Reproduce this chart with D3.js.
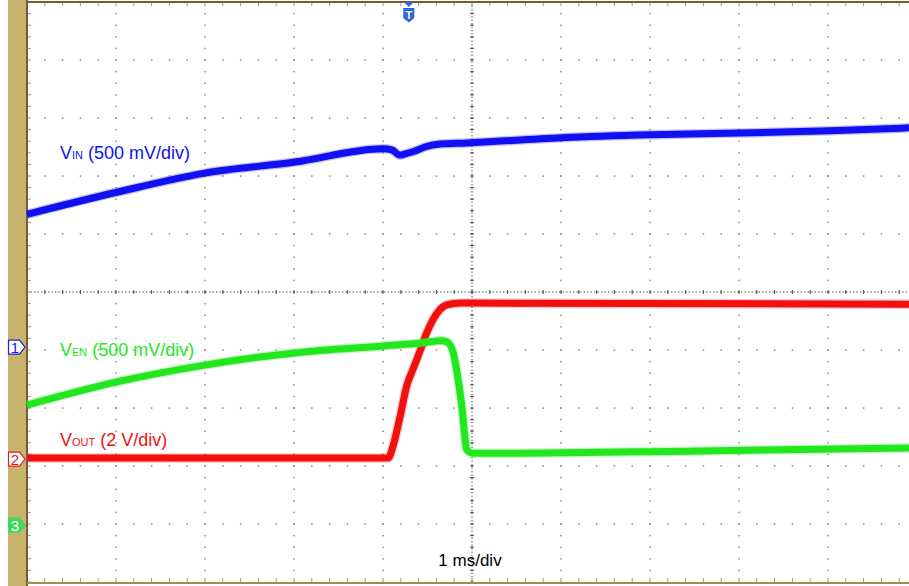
<!DOCTYPE html>
<html>
<head>
<meta charset="utf-8">
<script src="https://cdn.jsdelivr.net/npm/d3@7"></script>
<style>
  body { margin: 0; background: #fff; }
  text { font-family: "Liberation Sans", Arial, sans-serif; }
</style>
</head>
<body>
<div id="scope"></div>
<script>
// traces: time in ms, level in divisions from centre
const vinTime  = [0, 1.01, 2.0, 3.01, 4.0, 4.1, 4.19, 4.25, 4.36, 4.47, 4.64, 4.94, 6.01, 7.02, 8.01, 9.02, 9.91];
const vinLevel = [1.34, 1.72, 2.05, 2.24, 2.47, 2.45, 2.36, 2.38, 2.43, 2.5, 2.55, 2.57, 2.66, 2.71, 2.74, 2.78, 2.83];

const enTime  = [0, 1.01, 2.0, 3.01, 4.0, 4.42, 4.66, 4.72, 4.79, 4.84, 4.89, 4.92, 4.94, 5.01, 5.31, 7.56, 9.91];
const enLevel = [-1.95, -1.55, -1.26, -1.05, -0.93, -0.88, -0.84, -0.86, -1.05, -1.47, -2.03, -2.5, -2.72, -2.78, -2.78, -2.74, -2.69];

const outTime  = [0, 4.06, 4.11, 4.19, 4.27, 4.34, 4.42, 4.49, 4.61, 4.72, 4.87, 9.91];
const outLevel = [-2.86, -2.86, -2.67, -2.16, -1.6, -1.32, -1.0, -0.71, -0.36, -0.22, -0.19, -0.21];

// channel labels and ground markers
const labelText  = ["V", "V", "V"];
const labelSub   = ["IN", "EN", "OUT"];
const labelScale = [" (500 mV/div)", " (500 mV/div)", " (2 V/div)"];
const labelLevel = [2.3, -1.11, -2.65];
const markerIds    = ["1", "2", "3"];
const markerLevels = [-0.95, -2.88, -4.02];
const triggerTime = 4.29;
const timebase = "1 ms/div";

const W = 909, H = 586;
const blue = "#1010f0", green = "#22e61e", red = "#f01010";

const svg = d3.select("#scope").append("svg")
    .attr("width", W)
    .attr("height", H);

svg.append("rect").attr("width", W).attr("height", H).attr("fill", "#fff");

// 10 x 10 divisions, screen cropped at the right
const x = d3.scaleLinear().domain([0, 10]).range([27, 917]);
const y = d3.scaleLinear().domain([-5, 5]).range([582, 2]);

// left bezel
svg.append("rect").attr("x", 8).attr("y", 0).attr("width", 18).attr("height", H).attr("fill", "#c6b46c");

// graticule dots
const grid = svg.append("g").attr("fill", "#8a8a8a");
const minorX = d3.range(0, 50.01, 1).map(i => i / 5);
const minorY = d3.range(-25, 25.01, 1).map(i => i / 5);
d3.range(-4, 5).forEach(lv => {
    grid.selectAll(null).data(minorX).enter().append("rect")
        .attr("x", d => x(d) - 0.7).attr("y", y(lv) - 0.7)
        .attr("width", 1.5).attr("height", 1.5);
});
d3.range(1, 10).forEach(t => {
    grid.selectAll(null).data(minorY).enter().append("rect")
        .attr("x", x(t) - 0.7).attr("y", d => y(d) - 0.7)
        .attr("width", 1.5).attr("height", 1.5);
});

// centre crosshair with tick marks
const cross = svg.append("g").attr("stroke", "#555").attr("stroke-width", 1);
cross.append("line")
    .attr("x1", x(0)).attr("x2", W).attr("y1", y(0)).attr("y2", y(0))
    .attr("stroke-dasharray", "1.5,2");
cross.append("line")
    .attr("x1", x(5)).attr("x2", x(5)).attr("y1", y(5)).attr("y2", y(-5))
    .attr("stroke-dasharray", "1.5,2");
cross.selectAll(".tx").data(minorX).enter().append("line")
    .attr("x1", d => x(d)).attr("x2", d => x(d))
    .attr("y1", y(0) - 2).attr("y2", y(0) + 2);
cross.selectAll(".ty").data(minorY).enter().append("line")
    .attr("x1", x(5) - 2).attr("x2", x(5) + 2)
    .attr("y1", d => y(d)).attr("y2", d => y(d));
// edge ticks
cross.selectAll(".ly").data(minorY).enter().append("line")
    .attr("x1", x(0)).attr("x2", x(0) + 4)
    .attr("y1", d => y(d)).attr("y2", d => y(d))
    .attr("stroke", "#999");
cross.selectAll(".tt").data(minorX).enter().append("line")
    .attr("x1", d => x(d)).attr("x2", d => x(d))
    .attr("y1", y(5)).attr("y2", y(5) + 4)
    .attr("stroke", "#999");
cross.selectAll(".bt").data(minorX).enter().append("line")
    .attr("x1", d => x(d)).attr("x2", d => x(d))
    .attr("y1", y(-5)).attr("y2", y(-5) - 4)
    .attr("stroke", "#999");

// frame
svg.append("line").attr("x1", x(0)).attr("x2", x(0)).attr("y1", 0).attr("y2", H)
    .attr("stroke", "#7d5a32").attr("stroke-width", 2);
svg.append("line").attr("x1", x(0)).attr("x2", W).attr("y1", y(5)).attr("y2", y(5))
    .attr("stroke", "#7d5a32").attr("stroke-width", 2);
svg.append("line").attr("x1", x(0)).attr("x2", W).attr("y1", y(-5) + 1).attr("y2", y(-5) + 1)
    .attr("stroke", "#a88a4a").attr("stroke-width", 2);

// traces
const line = d3.line().x(d => x(d[0])).y(d => y(d[1])).curve(d3.curveMonotoneX);
function drawTrace(times, levels, colour) {
    const pts = times.map((t, i) => [t, levels[i]]);
    svg.append("path").datum(pts).attr("d", line)
        .attr("fill", "none").attr("stroke", colour)
        .attr("stroke-width", 9.5).attr("stroke-opacity", 0.25);
    svg.append("path").datum(pts).attr("d", line)
        .attr("fill", "none").attr("stroke", colour)
        .attr("stroke-width", 7).attr("stroke-linejoin", "round");
}
drawTrace(vinTime, vinLevel, blue);
drawTrace(outTime, outLevel, red);
drawTrace(enTime, enLevel, green);

// trace labels
const labelColours = [blue, green, red];
labelText.forEach((v, i) => {
    const t = svg.append("text")
        .attr("x", 60).attr("y", y(labelLevel[i]))
        .attr("fill", labelColours[i])
        .style("font-size", "18px");
    t.append("tspan").text(v);
    t.append("tspan").text(labelSub[i]).style("font-size", "11px");
    t.append("tspan").text(labelScale[i]);
});

// channel ground markers
const markerFill = ["#fff", "#fff", "#40d860"];
const markerStroke = ["#2020e0", "#e02020", "#40d860"];
const markerText = ["#2020e0", "#e02020", "#fff"];
markerIds.forEach((id, i) => {
    const cy = y(markerLevels[i]);
    svg.append("path")
        .attr("d", `M8.5,${cy - 7} L19.5,${cy - 7} L25,${cy} L19.5,${cy + 7} L8.5,${cy + 7} Z`)
        .attr("fill", markerFill[i]).attr("stroke", markerStroke[i]).attr("stroke-width", 1.2);
    svg.append("text")
        .attr("x", 15).attr("y", cy + 5.5)
        .attr("text-anchor", "middle")
        .attr("fill", markerText[i])
        .style("font-size", "15px")
        .text(id);
});

// trigger marker
const tx = x(triggerTime);
svg.append("path")
    .attr("d", `M${tx - 5},2 L${tx + 5},2 L${tx},7 Z`)
    .attr("fill", "#2a68d8");
svg.append("path")
    .attr("d", `M${tx - 5.5},8 L${tx + 5.5},8 L${tx + 5.5},18 L${tx},22.5 L${tx - 5.5},18 Z`)
    .attr("fill", "#2a68d8");
svg.append("text")
    .attr("x", tx).attr("y", 19)
    .attr("text-anchor", "middle")
    .attr("fill", "#fff")
    .style("font-size", "11px").style("font-weight", "bold")
    .text("T");

// timebase
svg.append("text")
    .attr("x", 470).attr("y", 566)
    .attr("text-anchor", "middle")
    .attr("fill", "#000")
    .style("font-size", "17px")
    .text(timebase);
</script>
</body>
</html>
